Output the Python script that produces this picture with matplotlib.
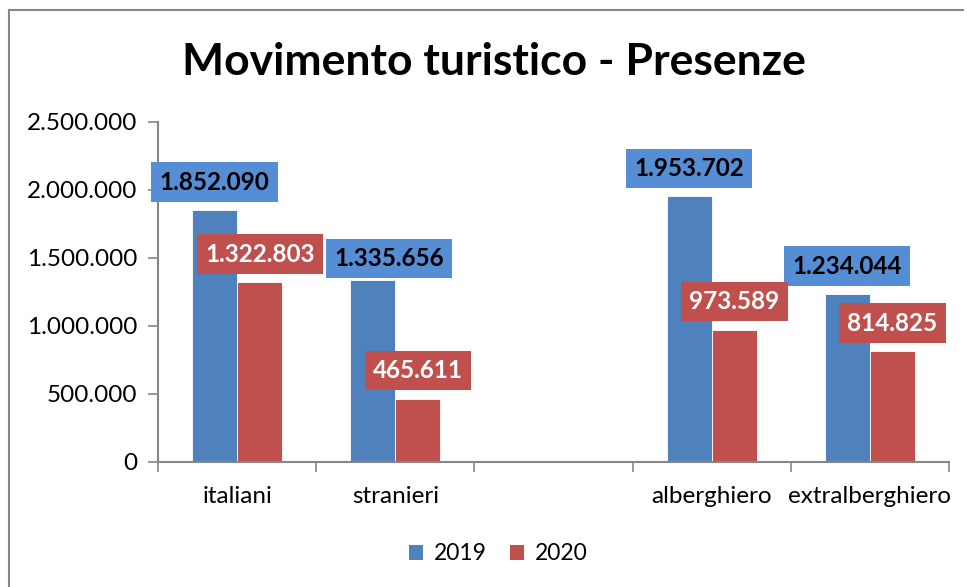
import numpy as np
import matplotlib
matplotlib.use("Agg")
import matplotlib.pyplot as plt
from matplotlib.lines import Line2D
from matplotlib.patches import Patch

categories = ["italiani", "stranieri", "", "alberghiero", "extralberghiero"]
series_names = ["2019", "2020"]
values_2019 = [1852090, 1335656, np.nan, 1953702, 1234044]
values_2020 = [1322803, 465611, np.nan, 973589, 814825]
y_ticks = [0, 500000, 1000000, 1500000, 2000000, 2500000]
title = "Movimento turistico - Presenze"

col_2019 = "#4F81BD"
col_2020 = "#C0504D"
box_2019 = "#558ED5"
box_2020 = "#C0504D"
axis_col = "#868686"

plt.rcParams['font.family'] = ['Lato', 'DejaVu Sans']

fig = plt.figure(figsize=(9.67, 5.87), dpi=100)
ax = fig.add_axes([158/967, 1-462/587, 791/967, 340/587])

def fmt(v):
    return f"{v:,.0f}".replace(",", ".")

x = np.arange(len(categories))
w = 0.285
ax.bar(x - w/2, values_2019, w, color=col_2019, edgecolor="white", linewidth=0.6, label=series_names[0])
ax.bar(x + w/2, values_2020, w, color=col_2020, edgecolor="white", linewidth=0.6, label=series_names[1])

ax.set_xlim(-0.5, len(categories) - 0.5)
ax.set_ylim(0, 2500000)
ax.set_yticks(y_ticks)
ax.set_yticklabels([fmt(v) for v in y_ticks], fontsize=17.5)
ax.set_xticks(np.arange(-0.5, len(categories), 1.0))
ax.set_xticklabels([])
ax.set_xticks(x, minor=True)
ax.set_xticklabels(categories, minor=True, fontsize=17.5)
ax.tick_params(axis='x', which='minor', length=0, pad=17)
ax.tick_params(axis='x', which='major', length=7, color=axis_col, width=1.2)
ax.tick_params(axis='y', length=7, color=axis_col, width=1.2, pad=8)
for s in ["top", "right"]:
    ax.spines[s].set_visible(False)
for s in ["left", "bottom"]:
    ax.spines[s].set_color(axis_col)
    ax.spines[s].set_linewidth(1.5)

# data labels
offsets_2019 = [(0, 28), (16, 22), (0, 28), (0, 28), (0, 28)]
offsets_2020 = [(0, 28)] * 5
for xi, v, off in zip(x - w/2, values_2019, offsets_2019):
    if np.isnan(v):
        continue
    ax.annotate(fmt(v), (xi, v), xytext=off, textcoords="offset pixels",
                ha="center", va="center", fontsize=17.5, fontweight="bold", color="black",
                bbox=dict(boxstyle="square,pad=0.34", fc=box_2019, ec="none"))
for xi, v, off in zip(x + w/2, values_2020, offsets_2020):
    if np.isnan(v):
        continue
    ax.annotate(fmt(v), (xi, v), xytext=off, textcoords="offset pixels",
                ha="center", va="center", fontsize=17.5, fontweight="bold", color="white",
                bbox=dict(boxstyle="square,pad=0.34", fc=box_2020, ec="none"))

fig.text(494/967, 1-62/587, title, ha="center", va="center", fontsize=32, fontweight="bold")

handles = [Patch(facecolor=col_2019, label=series_names[0]),
           Patch(facecolor=col_2020, label=series_names[1])]
fig.legend(handles=handles, loc="center", bbox_to_anchor=(498/967, 1-554/587), ncol=2,
           frameon=False, fontsize=16.5, handlelength=0.65, handleheight=0.65,
           handletextpad=0.45, columnspacing=1.0)

# chart area border (top and left visible)
fig.add_artist(Line2D([8.5/967, 963/967], [1-9.5/587, 1-9.5/587], color=axis_col, lw=1.5))
fig.add_artist(Line2D([8.5/967, 8.5/967], [0, 1-9.5/587], color=axis_col, lw=1.5))

fig.savefig("out.png", dpi=100)
